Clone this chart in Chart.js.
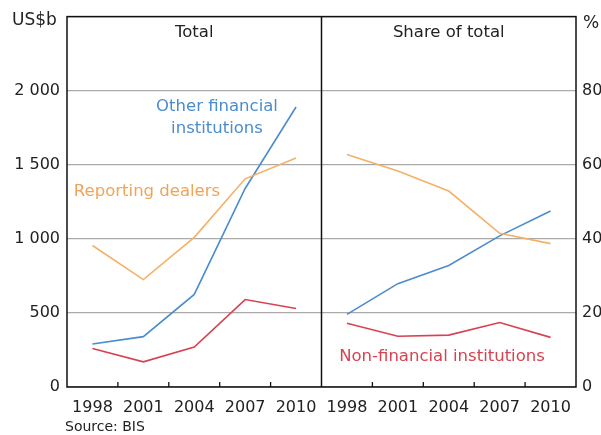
<!DOCTYPE html>
<html>
<head>
<meta charset="utf-8">
<script src="https://cdn.jsdelivr.net/npm/chart.js@4"></script>
<style>
  body { margin: 0; background: #fff; }
  canvas { display: block; }
</style>
</head>
<body>
<canvas id="ChartCanvas" width="601" height="435"></canvas>
<script>
var years = ['1998', '2001', '2004', '2007', '2010'];

// left panel, US$b
var otherTotal = [290, 340, 625, 1340, 1890];
var dealersTotal = [955, 725, 1010, 1405, 1545];
var nonFinTotal = [260, 170, 270, 590, 530];

// right panel, per cent of total
var otherShare = [19.6, 27.9, 32.8, 40.8, 47.5];
var dealersShare = [62.8, 58.3, 52.9, 41.5, 38.7];
var nonFinShare = [17.2, 13.7, 14.0, 17.4, 13.4];

var leftTicks = [0, 500, 1000, 1500, 2000];
var rightTicks = [0, 20, 40, 60, 80];

var blue = 'rgb(74, 140, 206)';
var orange = 'rgb(245, 176, 104)';
var red = 'rgb(216, 66, 80)';
var font = "'DejaVu Sans', sans-serif";

var gap = [null, null, null, null, null];
var labels = years.concat(years);

function lineSet(data, color, axis)
{
    return {
        data: data,
        borderColor: color,
        backgroundColor: color,
        borderWidth: 1.6,
        pointRadius: 0,
        tension: 0,
        spanGaps: false,
        yAxisID: axis
    };
}

var panelPlugin = {
    id: 'panels',
    afterDraw: function(chart)
    {
        var ctx = chart.ctx;
        var a = chart.chartArea;
        var x = chart.scales.x;
        var mid = (x.getPixelForValue(4) + x.getPixelForValue(5)) / 2;

        ctx.save();
        ctx.strokeStyle = '#111';
        ctx.lineWidth = 1.5;
        ctx.strokeRect(a.left, a.top, a.right - a.left, a.bottom - a.top);
        ctx.beginPath();
        ctx.moveTo(mid, a.top);
        ctx.lineTo(mid, a.bottom);
        ctx.stroke();

        // small inward ticks between the years
        ctx.lineWidth = 1.3;
        for (var i = 0; i < 9; i++)
        {
            if (i == 4) continue;
            var px = (x.getPixelForValue(i) + x.getPixelForValue(i + 1)) / 2;
            ctx.beginPath();
            ctx.moveTo(px, a.bottom);
            ctx.lineTo(px, a.bottom - 5);
            ctx.stroke();
        }

        ctx.fillStyle = '#222';
        ctx.font = '16.5px ' + font;
        ctx.textBaseline = 'middle';
        ctx.textAlign = 'center';
        ctx.fillText('Total', (a.left + mid) / 2, 33);
        ctx.fillText('Share of total', (mid + a.right) / 2, 33);
        ctx.textAlign = 'left';
        ctx.font = '17px ' + font;
        ctx.fillText('US$b', 12, 21);
        ctx.fillText('%', 583, 24);
        ctx.font = '14px ' + font;
        ctx.fillText('Source: BIS', 65, 427);

        ctx.font = '16.5px ' + font;
        ctx.textAlign = 'center';
        ctx.fillStyle = blue;
        ctx.fillText('Other financial', 217, 107);
        ctx.fillText('institutions', 217, 129);
        ctx.fillStyle = 'rgb(240, 164, 88)';
        ctx.fillText('Reporting dealers', 147, 192);
        ctx.fillStyle = red;
        ctx.fillText('Non-financial institutions', 442, 357);
        ctx.restore();
    }
};

var config = {
    type: 'line',
    data: {
        labels: labels,
        datasets: [
            lineSet(dealersTotal.concat(gap), orange, 'y'),
            lineSet(otherTotal.concat(gap), blue, 'y'),
            lineSet(nonFinTotal.concat(gap), red, 'y'),
            lineSet(gap.concat(dealersShare), orange, 'y2'),
            lineSet(gap.concat(otherShare), blue, 'y2'),
            lineSet(gap.concat(nonFinShare), red, 'y2')
        ]
    },
    options: {
        responsive: false,
        animation: false,
        layout: { padding: { top: 15, left: 0, right: 0, bottom: 0 } },
        plugins: {
            legend: { display: false },
            tooltip: { enabled: false }
        },
        scales: {
            x: {
                offset: true,
                grid: { display: false },
                border: { display: false },
                ticks: {
                    color: '#222',
                    font: { family: font, size: 16 },
                    padding: 3,
                    maxRotation: 0,
                    autoSkip: false
                },
                afterFit: function(scale) { scale.height = 48; }
            },
            y: {
                position: 'left',
                min: 0,
                max: 2500,
                afterBuildTicks: function(scale)
                {
                    scale.ticks = leftTicks.concat([2500]).map(function(v) { return { value: v }; });
                },
                grid: { color: '#aaa', lineWidth: 1.2, drawTicks: false },
                border: { display: false },
                ticks: {
                    color: '#222',
                    font: { family: font, size: 16 },
                    padding: 7,
                    callback: function(value)
                    {
                        if (leftTicks.indexOf(value) < 0) return '';
                        return String(value).replace(/\B(?=(\d{3})+(?!\d))/g, ' ');
                    }
                },
                afterFit: function(scale) { scale.width = 67; }
            },
            y2: {
                position: 'right',
                min: 0,
                max: 100,
                afterBuildTicks: function(scale)
                {
                    scale.ticks = rightTicks.concat([100]).map(function(v) { return { value: v }; });
                },
                grid: { display: false, drawTicks: false },
                border: { display: false },
                ticks: {
                    color: '#222',
                    font: { family: font, size: 16 },
                    padding: 6,
                    callback: function(value)
                    {
                        if (rightTicks.indexOf(value) < 0) return '';
                        return value;
                    }
                },
                afterFit: function(scale) { scale.width = 25; }
            }
        }
    },
    plugins: [panelPlugin]
};

var climateChart = document.getElementById('ChartCanvas').getContext('2d');
var createdChart = new Chart(climateChart, config);
</script>
</body>
</html>
